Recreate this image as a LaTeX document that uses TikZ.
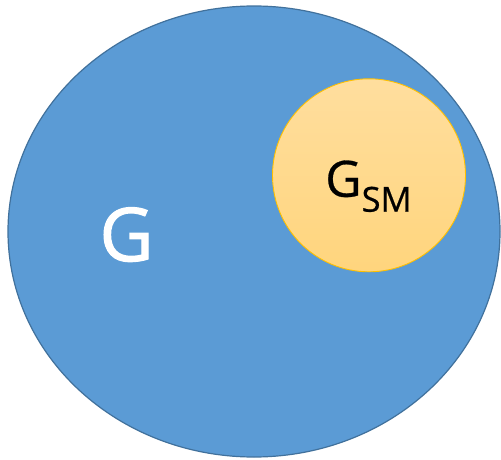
\documentclass[tikz,border=0pt]{standalone}
\usepackage{fontspec}
\setmainfont{Open Sans}
\newfontfamily\gfont[FakeBold=1.6]{Open Sans}
\newfontfamily\smfont[FakeBold=0.6]{Open Sans}
\definecolor{gblue}{RGB}{91,155,213}
\definecolor{gblueline}{RGB}{65,113,156}
\definecolor{smtop}{RGB}{255,222,158}
\definecolor{smbot}{RGB}{255,213,125}
\definecolor{smline}{RGB}{255,192,0}
\begin{document}
\begin{tikzpicture}[x=1pt,y=1pt,
  bigset/.style={draw=gblueline,line width=1.2pt,fill=gblue},
  subset/.style={draw=smline,line width=0.9pt,top color=smtop,bottom color=smbot}]
\useasboundingbox (0,0) rectangle (501,459);
\draw[bigset] (254,227.5) ellipse [x radius=246,y radius=225.5];
\draw[subset] (369,283.7) circle [radius=96.5];
\node[anchor=base,text=white,inner sep=0pt] (g) at (126.5,198) {\gfont\fontsize{74}{74}\selectfont G};
\node[anchor=base,text=black,inner sep=0pt] (gsm) at (368.5,262.3) {\smfont\fontsize{50}{50}\selectfont G\raisebox{-15pt}{\fontsize{34.5}{34.5}\selectfont SM}};
\end{tikzpicture}
\end{document}
